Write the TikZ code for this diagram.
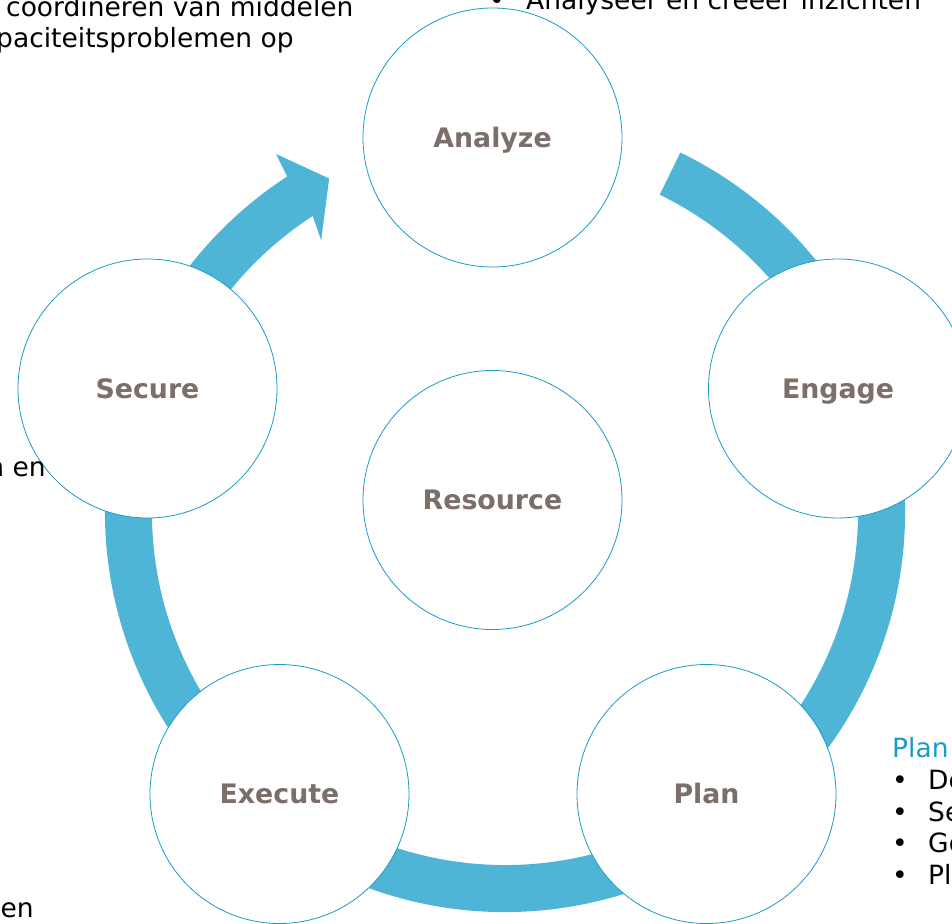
\documentclass[tikz,border=0pt]{standalone}
\usepackage{fontspec}
\setmainfont{DejaVu Sans}
\usetikzlibrary{calc}
\definecolor{ringblue}{HTML}{4FB5D6}
\definecolor{edgeblue}{HTML}{1B9AC9}
\definecolor{labelgray}{HTML}{7C6E68}
\tikzset{
  phase/.style={
    circle, draw=edgeblue, fill=white, line width=0.8pt,
    minimum size=259pt, inner sep=0pt, text height=19.5pt, text depth=0pt,
    font=\fontsize{26.8}{31}\selectfont\bfseries, text=labelgray
  },
  note/.style={anchor=base west, inner sep=0pt, font=\fontsize{26.5}{31}\selectfont}
}

\begin{document}
\begin{tikzpicture}[x=1pt,y=-1pt]
\useasboundingbox (0,0) rectangle (952,923);
\clip (0,0) rectangle (952,923);

% ring with arrow
\coordinate (ring) at (505,512);
\fill[ringblue] ($(ring)+(-64:400)$) arc[start angle=-64, end angle=237, radius=400]
  -- ($(ring)+(237.4:425)$) -- ($(ring)+(242.2:377)$) -- ($(ring)+(235.9:328)$)
  -- ($(ring)+(237:353)$) arc[start angle=237, end angle=-64, radius=353] -- cycle;

% phases
\node[phase] (resource) at (492.5,500) {Resource};
\node[phase] (analyze) at (492.5,137.5) {Analyze};
\node[phase] (engage) at (838,388.5) {Engage};
\node[phase] (plan) at (706.5,794) {Plan};
\node[phase] (execute) at (279.5,794) {Execute};
\node[phase] (secure) at (147.5,388.5) {Secure};

% notes around the cycle
\node[note] (coordtext) at (6,17) {coordineren van middelen};
\node[note] (capactext) at (-4,48) {paciteitsproblemen op};
\node[note] (analyzebullet) at (489,9.5) {•};
\node[note] (analyzetext) at (526,9.5) {Analyseer en creëer inzichten};
\node[note, anchor=base east] (securetext) at (46,476) {n en};
\node[note] (executetext) at (0.5,917) {en};
\node[note, text=edgeblue] (plantitle) at (892,757) {Plan};
\foreach \y/\t [count=\i] in {789/De,821/Se,852/Go,884/Pl}{
  \node[note] (planbullet\i) at (892,\y) {•};
  \node[note] (planitem\i) at (928,\y) {\t};
}
\end{tikzpicture}
\end{document}
